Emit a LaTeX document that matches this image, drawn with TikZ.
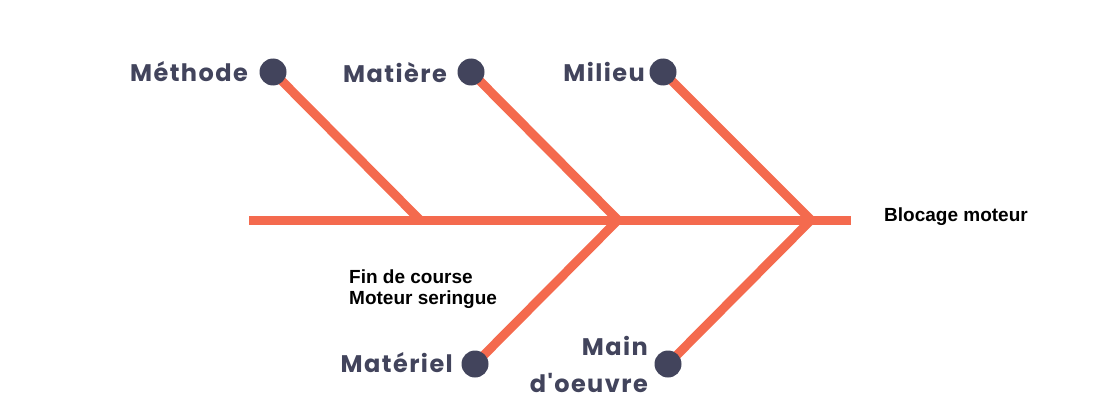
\documentclass[tikz,border=0pt]{standalone}
\usepackage{fontspec}
\setmainfont{Liberation Sans}
\newfontfamily\popfont[LetterSpace=6]{Poppins}
\definecolor{bone}{HTML}{F46A4E}
\definecolor{dot}{HTML}{42445C}
\begin{document}
\begin{tikzpicture}[x=1pt,y=-1pt,
  bonel/.style={draw=bone,line width=9pt},
  dotn/.style={circle,fill=dot,minimum size=27pt,inner sep=0pt},
  catl/.style={font=\popfont\bfseries\fontsize{24}{30}\selectfont,text=dot,inner sep=0pt},
  note/.style={font=\bfseries\fontsize{19}{21}\selectfont,inner sep=0pt,align=left}]
\useasboundingbox (0,0) rectangle (1100,420);
\coordinate (tail) at (249,220);
\coordinate (head) at (851,220);
\coordinate (j1) at (420,220);
\coordinate (j2) at (618,220);
\coordinate (j3) at (811,220);
\coordinate (p1) at (273,72);
\coordinate (p2) at (471,72);
\coordinate (p3) at (663,72);
\coordinate (p4) at (475,364);
\coordinate (p5) at (668,364);
\draw[bonel] (tail) -- (head);
\draw[bonel] (p1) -- (j1);
\draw[bonel] (p2) -- (j2);
\draw[bonel] (p3) -- (j3);
\draw[bonel] (p4) -- (j2);
\draw[bonel] (p5) -- (j3);
\node[dotn] (d1) at (p1) {};
\node[dotn] (d2) at (p2) {};
\node[dotn] (d3) at (p3) {};
\node[dotn] (d4) at (p4) {};
\node[dotn] (d5) at (p5) {};
\node[catl,anchor=east] (l1) at (248,72) {Méthode};
\node[catl,anchor=east] (l2) at (447,73) {Matière};
\node[catl,anchor=east] (l3) at (645,72) {Milieu};
\node[catl,anchor=east] (l4) at (453,363) {Matériel};
\node[catl,anchor=east,align=right,font=\popfont\bfseries\fontsize{24}{37}\selectfont] (l5) at (648,364) {Main\\d'oeuvre};
\node[note,anchor=west] (n1) at (349,289) {Fin de course\\Moteur seringue};
\node[note,anchor=west] (n2) at (884,217) {Blocage moteur};
\end{tikzpicture}
\end{document}
